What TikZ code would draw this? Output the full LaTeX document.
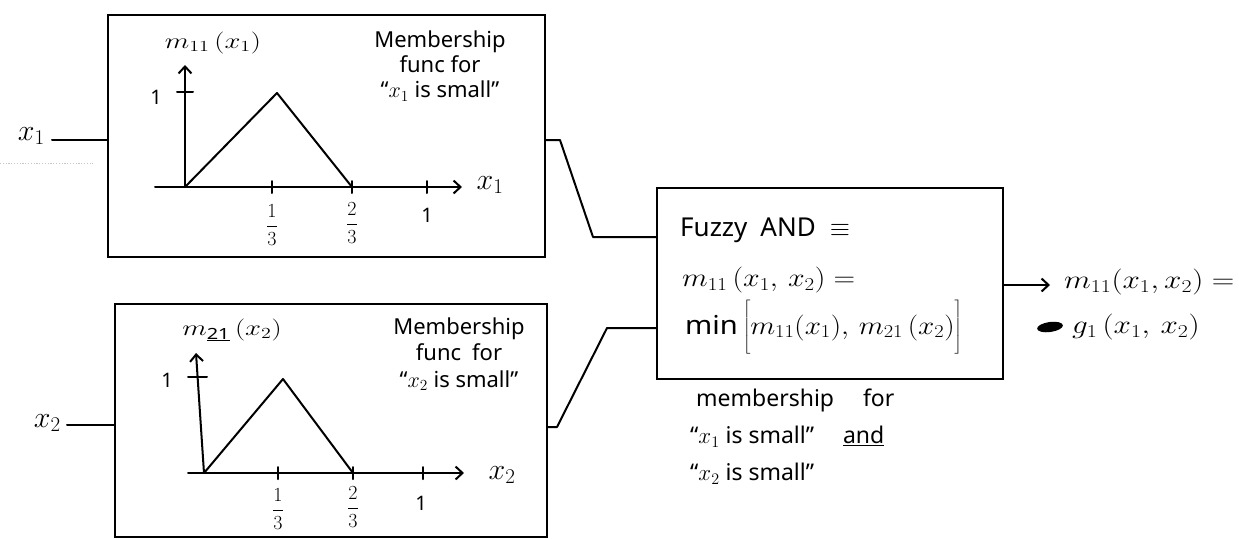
\RequirePackage{fix-cm}
\documentclass[tikz,border=0pt]{standalone}
\usepackage{graphicx}
\usepackage{fontspec}
\setmainfont{Noto Sans}
\usetikzlibrary{arrows.meta}
\newcommand{\hstretch}[2]{\scalebox{#1}[1]{#2}}
\begin{document}
\begin{tikzpicture}[x=1pt,y=-1pt,
  ink/.style={line width=2pt, line join=round, line cap=round},
  blk/.style={draw, line width=2.2pt, rectangle, inner sep=0pt},
  lbl/.style={font=\fontsize{20}{25}\selectfont, inner sep=0pt},
  memb/.style={font=\fontsize{22}{25}\selectfont, inner sep=0pt, align=center},
  mid/.style={font=\fontsize{23}{37}\selectfont, inner sep=0pt},
  bigl/.style={font=\fontsize{26}{30}\selectfont, inner sep=0pt},
  inp/.style={font=\fontsize{30}{34}\selectfont, inner sep=0pt},
  barb/.style={-{Straight Barb[length=7pt,width=13pt,line width=2pt]}},
]
\useasboundingbox (0,0) rectangle (1239,539);

% scan artefact
\draw[gray!45, line width=0.7pt, dash pattern=on 1.2pt off 1.6pt] (0,163) -- (93,163);

% ---------- blocks ----------
\node[blk, minimum width=437pt, minimum height=242pt] (box1) at (326.5,136) {};
\node[blk, minimum width=432pt, minimum height=233pt] (box2) at (331,420.5) {};
\node[blk, minimum width=346pt, minimum height=191pt] (and) at (830,283.5) {};

% ---------- inputs ----------
\node[inp, anchor=east] (x1) at (45,136) {$x_1$};
\coordinate (i1) at (52,140);
\draw[ink] (i1) -- (box1.west |- i1);
\node[inp, anchor=east] (x2) at (61,423) {$x_2$};
\coordinate (i2) at (67,425);
\draw[ink] (i2) -- (box2.west |- i2);

% ---------- plot 1 ----------
\node[lbl, font=\fontsize{22}{26}\selectfont] (m1) at (213,43) {\hstretch{1.3}{$m_{11}\,(x_1)$}};
\coordinate (o1) at (185,187);
\coordinate (p1) at (277,93);
\coordinate (e1) at (352,187);
\draw[ink, barb] (o1) -- (185,65);
\draw[ink, barb] (155,187) -- (462,187);
\draw[ink] (177,92) -- (193,92);
\foreach \t in {272,352,427} \draw[ink] (\t,181) -- (\t,193);
\draw[ink] (o1) -- (p1) -- (e1);
\node[lbl] (y1a) at (156,97) {1};
\node[lbl] (f1a) at (272,225) {$\displaystyle\frac{1}{3}$};
\node[lbl] (f1b) at (352,223) {$\displaystyle\frac{2}{3}$};
\node[lbl] (u1a) at (427,215) {1};
\node[inp] (ax1) at (490,185) {$x_1$};
\node[memb] (mf1) at (440,66) {Membership\\func for\\``$x_1$ is small''};

% ---------- plot 2 ----------
\node[lbl, font=\fontsize{22}{26}\selectfont] (m2) at (232,330) {\hstretch{1.3}{$m_{\underline{\mathbf{21}}}\,(x_2)$}};
\coordinate (o2) at (204,473);
\coordinate (p2) at (283,379);
\coordinate (e2) at (353,473);
\draw[ink, barb] (o2) -- (196,353);
\draw[ink, barb] (188,473) -- (464,473);
\draw[ink] (188,377) -- (207,377);
\foreach \t in {278,353,423} \draw[ink] (\t,467) -- (\t,479);
\draw[ink] (o2) -- (p2) -- (e2);
\node[lbl] (y2a) at (167,380) {1};
\node[lbl] (f2a) at (278,509) {$\displaystyle\frac{1}{3}$};
\node[lbl] (f2b) at (353,507) {$\displaystyle\frac{2}{3}$};
\node[lbl] (u2a) at (421,503) {1};
\node[inp] (ax2) at (502,475) {$x_2$};
\node[memb, font=\fontsize{22}{26.5}\selectfont] (mf2) at (459,354) {Membership\\func\enspace for\\``$x_2$ is small''};

% ---------- wires into AND ----------
\coordinate (a1) at (560,140);
\coordinate (b1) at (593,237);
\draw[ink] (box1.east |- a1) -- (a1) -- (b1) -- (and.west |- b1);
\coordinate (a2) at (557,427);
\coordinate (b2) at (607,328);
\draw[ink] (box2.east |- a2) -- (a2) -- (b2) -- (and.west |- b2);

% ---------- AND text ----------
\node[bigl, anchor=west] (t1) at (680,230) {Fuzzy\enspace AND\; $\equiv$};
\node[bigl, anchor=west] (t2) at (682,280) {\hstretch{1.15}{$m_{11}\,(x_1,\, x_2) =$}};
\node[bigl, anchor=base west] (t3) at (685,334) {\hstretch{1.12}{\smash{$\mathrm{min}\left[\rule[-20pt]{0pt}{54pt} m_{11}(x_1),\, m_{21}\,(x_2)\right]$}}};

\node[mid, anchor=north west, align=left] (cap) at (690,389)
  {\hspace{6pt}membership\quad\ for\\``$x_1$ is small''\quad\ \underline{and}\\``$x_2$ is small''};

% ---------- output ----------
\node[bigl, anchor=west] (out1) at (1064,282) {\hstretch{1.2}{$m_{11}(x_1,x_2) =$}};
\coordinate (tip) at (1050,285);
\draw[ink, barb] (and.east |- tip) -- (tip);
\fill[rotate around={8:(1050,327)}] (1050,327) ellipse [x radius=13pt, y radius=5pt];
\node[bigl, anchor=west] (out2) at (1072,327) {\hstretch{1.2}{$g_1\,(x_1,\,x_2)$}};
\end{tikzpicture}
\end{document}
